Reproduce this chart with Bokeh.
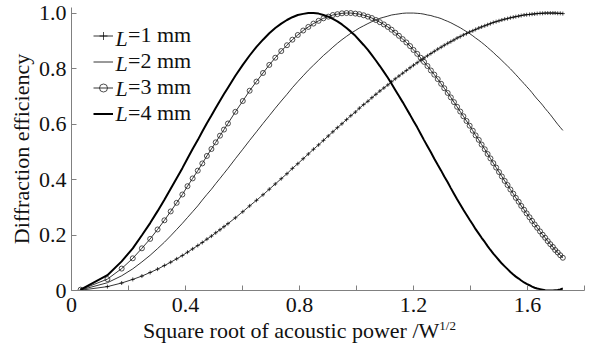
from bokeh.plotting import figure
from bokeh.models import Range1d, FixedTicker, Legend, LegendItem, Label, Div
from bokeh.layouts import column
from bokeh.embed import file_html
from bokeh.resources import INLINE

# ---------------- data ----------------
x_vals = [0.032, 0.126, 0.176, 0.215, 0.247, 0.276, 0.302, 0.326, 0.348, 0.369, 0.389, 0.407, 0.425, 0.443, 0.459, 0.475, 0.491, 0.506, 0.521, 0.535, 0.549,
          0.575, 0.601, 0.625, 0.649, 0.672, 0.694, 0.715, 0.736, 0.756, 0.775, 0.794, 0.813, 0.831, 0.849, 0.867, 0.884, 0.901, 0.917, 0.933, 0.949,
          0.965, 0.980, 0.996, 1.010, 1.025, 1.040, 1.054, 1.068, 1.082, 1.096, 1.110, 1.123, 1.136, 1.149, 1.162, 1.175, 1.188, 1.200, 1.213, 1.225,
          1.237, 1.249, 1.261, 1.273, 1.285, 1.297, 1.308, 1.320, 1.331, 1.342, 1.353, 1.364, 1.375, 1.386, 1.397, 1.408, 1.418, 1.429, 1.439, 1.450,
          1.460, 1.470, 1.480, 1.490, 1.500, 1.510, 1.520, 1.530, 1.540, 1.550, 1.559, 1.569, 1.578, 1.588, 1.597, 1.607, 1.616, 1.625, 1.634, 1.644,
          1.653, 1.662, 1.671, 1.680, 1.689, 1.697, 1.706, 1.715, 1.724]

eff_L1 = [0.001, 0.014, 0.027, 0.040, 0.052, 0.065, 0.077, 0.090, 0.102, 0.114, 0.126, 0.138, 0.150, 0.162, 0.173, 0.185, 0.196, 0.208, 0.219, 0.230, 0.241,
          0.262, 0.284, 0.305, 0.325, 0.345, 0.365, 0.384, 0.403, 0.421, 0.440, 0.457, 0.475, 0.492, 0.509, 0.525, 0.541, 0.557, 0.572, 0.587, 0.601,
          0.616, 0.630, 0.643, 0.657, 0.670, 0.682, 0.695, 0.707, 0.719, 0.730, 0.741, 0.752, 0.763, 0.773, 0.783, 0.793, 0.803, 0.812, 0.821, 0.830,
          0.838, 0.846, 0.854, 0.862, 0.870, 0.877, 0.884, 0.891, 0.897, 0.903, 0.910, 0.915, 0.921, 0.926, 0.932, 0.936, 0.941, 0.946, 0.950, 0.954,
          0.958, 0.962, 0.966, 0.969, 0.972, 0.975, 0.978, 0.980, 0.983, 0.985, 0.987, 0.989, 0.991, 0.993, 0.994, 0.995, 0.996, 0.997, 0.998, 0.999,
          0.999, 1.000, 1.000, 1.000, 1.000, 1.000, 0.999, 0.999, 0.998]

eff_L2 = [0.002, 0.028, 0.053, 0.078, 0.103, 0.127, 0.151, 0.174, 0.197, 0.220, 0.242, 0.263, 0.284, 0.305, 0.326, 0.346, 0.365, 0.385, 0.404, 0.422, 0.440,
          0.475, 0.509, 0.541, 0.572, 0.602, 0.630, 0.657, 0.683, 0.707, 0.731, 0.753, 0.774, 0.794, 0.812, 0.830, 0.847, 0.862, 0.877, 0.891, 0.904,
          0.916, 0.927, 0.937, 0.946, 0.954, 0.962, 0.969, 0.975, 0.981, 0.985, 0.989, 0.993, 0.995, 0.997, 0.999, 1.000, 1.000, 1.000, 0.999, 0.998,
          0.996, 0.993, 0.991, 0.987, 0.984, 0.980, 0.975, 0.970, 0.965, 0.959, 0.953, 0.947, 0.940, 0.933, 0.926, 0.918, 0.910, 0.902, 0.894, 0.885,
          0.876, 0.867, 0.858, 0.848, 0.839, 0.829, 0.819, 0.809, 0.799, 0.788, 0.778, 0.767, 0.756, 0.746, 0.735, 0.724, 0.713, 0.701, 0.690, 0.679,
          0.668, 0.656, 0.645, 0.634, 0.622, 0.611, 0.599, 0.588, 0.577]

eff_L3 = [0.003, 0.041, 0.079, 0.116, 0.152, 0.186, 0.220, 0.253, 0.285, 0.316, 0.346, 0.376, 0.404, 0.432, 0.458, 0.485, 0.510, 0.534, 0.558, 0.580, 0.602,
          0.644, 0.683, 0.720, 0.753, 0.784, 0.813, 0.839, 0.863, 0.884, 0.904, 0.921, 0.937, 0.950, 0.962, 0.972, 0.981, 0.987, 0.993, 0.996, 0.999,
          1.000, 1.000, 0.998, 0.996, 0.992, 0.987, 0.982, 0.975, 0.967, 0.959, 0.950, 0.940, 0.929, 0.918, 0.906, 0.894, 0.881, 0.867, 0.853, 0.839,
          0.824, 0.809, 0.793, 0.778, 0.762, 0.745, 0.729, 0.712, 0.696, 0.679, 0.662, 0.645, 0.628, 0.611, 0.594, 0.576, 0.559, 0.543, 0.526, 0.509,
          0.492, 0.476, 0.459, 0.443, 0.427, 0.411, 0.395, 0.380, 0.364, 0.349, 0.334, 0.320, 0.305, 0.291, 0.278, 0.264, 0.251, 0.238, 0.226, 0.213,
          0.201, 0.190, 0.178, 0.167, 0.157, 0.146, 0.137, 0.127, 0.118]

eff_L4 = [0.003, 0.055, 0.105, 0.152, 0.199, 0.243, 0.286, 0.327, 0.367, 0.405, 0.441, 0.476, 0.510, 0.542, 0.573, 0.603, 0.631, 0.658, 0.684, 0.708, 0.731,
          0.774, 0.813, 0.847, 0.878, 0.904, 0.927, 0.946, 0.962, 0.975, 0.985, 0.993, 0.997, 1.000, 1.000, 0.998, 0.993, 0.987, 0.979, 0.970, 0.959,
          0.946, 0.933, 0.918, 0.902, 0.885, 0.867, 0.848, 0.829, 0.809, 0.788, 0.767, 0.745, 0.723, 0.701, 0.679, 0.656, 0.633, 0.611, 0.588, 0.565,
          0.542, 0.520, 0.498, 0.475, 0.453, 0.432, 0.411, 0.390, 0.369, 0.349, 0.329, 0.310, 0.291, 0.273, 0.255, 0.238, 0.221, 0.205, 0.190, 0.175,
          0.160, 0.146, 0.133, 0.121, 0.109, 0.097, 0.087, 0.077, 0.067, 0.058, 0.050, 0.043, 0.036, 0.029, 0.024, 0.019, 0.014, 0.010, 0.007, 0.005,
          0.003, 0.001, 0.000, 0.000, 0.000, 0.001, 0.002, 0.004, 0.007]

legend_suffix = ["=1 mm", "=2 mm", "=3 mm", "=4 mm"]
x_major_ticks = [0, 0.4, 0.8, 1.2, 1.6]
x_major_labels = ["0", "0.4", "0.8", "1.2", "1.6"]
x_minor_ticks = [0.2, 0.6, 1.0, 1.4, 1.8]
y_ticks = [0, 0.2, 0.4, 0.6, 0.8, 1.0]
y_labels = ["0", "0.2", "0.4", "0.6", "0.8", "1.0"]
x_title = "Square root of acoustic power /W"
x_title_sup = "1/2"
y_title = "Diffraction efficiency"

# ---------------- figure ----------------
FONT = "Liberation Serif"
FS = "22px"
AX = "#808080"
TXT = "#111111"

p = figure(width=596, height=323, output_backend="svg", toolbar_location=None,
           x_range=Range1d(0, 1.8), y_range=Range1d(0, 1.02),
           min_border_left=71, min_border_right=12, min_border_top=7, min_border_bottom=33)
p.outline_line_color = None
p.grid.visible = False
p.background_fill_color = "white"
p.border_fill_color = "white"

for ax in (p.xaxis[0], p.yaxis[0]):
    ax.axis_line_color = AX
    ax.major_tick_line_color = AX
    ax.minor_tick_line_color = AX
    ax.major_tick_in = 5
    ax.major_tick_out = 0
    ax.minor_tick_in = 5
    ax.minor_tick_out = 0
    ax.major_label_text_font = FONT
    ax.major_label_text_font_size = FS
    ax.major_label_text_color = TXT

p.xaxis.ticker = FixedTicker(ticks=x_major_ticks, minor_ticks=x_minor_ticks)
p.xaxis.major_label_overrides = {t: l for t, l in zip(x_major_ticks, x_major_labels)}
p.xaxis.major_label_standoff = 7
p.yaxis.ticker = FixedTicker(ticks=y_ticks, minor_ticks=[])
p.yaxis.major_label_overrides = {t: l for t, l in zip(y_ticks, y_labels)}
p.yaxis.major_label_standoff = 5
p.yaxis.axis_label = y_title
p.yaxis.axis_label_text_font = FONT
p.yaxis.axis_label_text_font_size = FS
p.yaxis.axis_label_text_font_style = "normal"
p.yaxis.axis_label_text_color = TXT
p.yaxis.axis_label_standoff = 2

# ---------------- series ----------------
r1l = p.line(x_vals, eff_L1, line_color="black", line_width=0.8)
r1m = p.scatter(x_vals, eff_L1, marker="cross", size=4, line_color="black", line_width=0.7)
r2l = p.line(x_vals, eff_L2, line_color="black", line_width=0.8)
r3l = p.line(x_vals, eff_L3, line_color="black", line_width=0.8)
r3m = p.scatter(x_vals, eff_L3, marker="circle", size=5, line_color="#222222", line_width=0.8, fill_color=None)
r4l = p.line(x_vals, eff_L4, line_color="black", line_width=2)

legend = Legend(items=[
    LegendItem(label=legend_suffix[0], renderers=[r1l, r1m]),
    LegendItem(label=legend_suffix[1], renderers=[r2l]),
    LegendItem(label=legend_suffix[2], renderers=[r3l, r3m]),
    LegendItem(label=legend_suffix[3], renderers=[r4l]),
], location=(22, 164), orientation="vertical")
legend.glyph_width = 20
legend.glyph_height = 25
legend.label_height = 25
legend.label_standoff = 15
legend.spacing = 0
legend.padding = 0
legend.margin = 0
legend.border_line_alpha = 0
legend.background_fill_alpha = 0
legend.label_text_font = FONT
legend.label_text_font_size = FS
legend.label_text_color = TXT
p.add_layout(legend)

for i in range(4):
    p.add_layout(Label(x=44, y=252 - 25 * i, x_units="screen", y_units="screen", text="L",
                       text_font=FONT, text_font_size=FS, text_font_style="italic",
                       text_color=TXT, text_baseline="middle", text_align="left"))

title_html = (x_title + '<span style="font-size:13px; position:relative; top:-8px;">'
              + x_title_sup + '</span>')
xtitle = Div(text=title_html, width=596, height=24, margin=(0, 0, 0, 0),
             styles={"font-family": FONT, "font-size": FS, "line-height": "16px",
                     "color": TXT, "padding-left": "143px", "white-space": "nowrap"})

layout = column(p, xtitle, spacing=0, margin=(0, 0, 0, 0))
open("out.html", "w").write(file_html(layout, INLINE))
